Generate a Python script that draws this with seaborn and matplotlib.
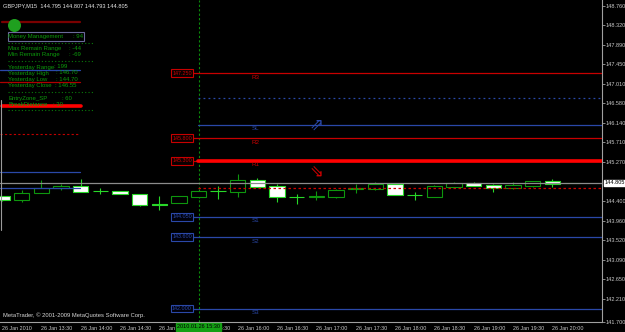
import numpy as np
import pandas as pd
import seaborn as sns
import matplotlib
matplotlib.use("Agg")
import matplotlib.pyplot as plt
from matplotlib import transforms as mtrans, patches

# ---------------- data ----------------
opens  = [144.51, 144.42, 144.58, 144.69, 144.73, 144.63, 144.62, 144.55, 144.33, 144.36,
          144.50, 144.63, 144.59, 144.86, 144.73, 144.50, 144.50, 144.50, 144.67, 144.66,
          144.78, 144.54, 144.50, 144.71, 144.80, 144.75, 144.69, 144.74, 144.84, 144.795]
highs  = [144.52, 144.64, 144.86, 144.79, 144.90, 144.70, 144.63, 144.56, 144.52, 144.52,
          144.66, 144.73, 145.01, 144.92, 144.79, 144.56, 144.62, 144.67, 144.77, 144.82,
          144.79, 144.59, 144.75, 144.82, 144.82, 144.79, 144.82, 144.84, 144.88, 144.807]
lows   = [144.41, 144.37, 144.58, 144.64, 144.61, 144.55, 144.55, 144.29, 144.19, 144.35,
          144.46, 144.45, 144.48, 144.71, 144.38, 144.34, 144.42, 144.46, 144.58, 144.64,
          144.53, 144.43, 144.50, 144.71, 144.74, 144.60, 144.67, 144.71, 144.71, 144.793]
closes = [144.42, 144.58, 144.70, 144.74, 144.61, 144.62, 144.55, 144.31, 144.32, 144.51,
          144.62, 144.62, 144.87, 144.71, 144.48, 144.49, 144.51, 144.65, 144.68, 144.79,
          144.53, 144.53, 144.73, 144.80, 144.74, 144.68, 144.76, 144.84, 144.79, 144.805]

x_tick_labels = ["26 Jan 2010", "26 Jan 13:30", "26 Jan 14:00", "26 Jan 14:30", "26 Jan 15:00",
                 "26 Jan 15:30", "26 Jan 16:00", "26 Jan 16:30", "26 Jan 17:00", "26 Jan 17:30",
                 "26 Jan 18:00", "26 Jan 18:30", "26 Jan 19:00", "26 Jan 19:30", "26 Jan 20:00"]
y_tick_values = [148.760, 148.320, 147.890, 147.450, 147.010, 146.580, 146.140, 145.710,
                 145.270, 144.400, 143.960, 143.520, 143.090, 142.650, 142.210, 141.700]

level_names  = ["R3", "SL", "R2", "R1", "S1", "S2", "S3"]
level_prices = [147.25, 146.10, 145.80, 145.30, 144.05, 143.60, 142.00]
level_kinds  = ["res", "sup", "res", "res", "sup", "sup", "sup"]
level_tags   = ["147.250", "", "145.800", "145.300", "144.050", "143.600", "142.000"]

yesterday_high = 146.70
yesterday_low = 144.70
last_price = 144.805
marker_time = "2010.01.26 15:30"
marker_bar = 10
arrow_bars = [16, 16]
arrow_prices = [146.10, 145.03]
arrow_kinds = ["buy", "sell"]

panel_labels = ["Money Management", "Max Remain Range", "Min Remain Range", "Yesterday Range",
                "Yesterday High", "Yesterday Low", "Yesterday Close", "EntryZone_SP", "BreakDistance"]
panel_values = ["94", "-44", "-69", "199", "146.70", "144.70", "146.55", "60", "30"]
panel_level_prices = [148.40, 147.33, 147.06, 146.51, 145.90, 145.05, 144.70]
panel_level_styles = ["darkred", "blue", "red", "thick", "dashed", "blue", "blue"]

title_text = "GBPJPY,M15  144.795 144.807 144.793 144.805"
copyright_text = "MetaTrader, \u00a9 2001-2009 MetaQuotes Software Corp."

# ---------------- style ----------------
sns.set_theme(style="dark", rc={"axes.facecolor": "black", "figure.facecolor": "black",
                                "savefig.facecolor": "black"})
plt.rcParams["font.family"] = ["Liberation Sans", "DejaVu Sans"]

RED = "#c80000"
BLUE = "#2a48a8"
TXT = "#c8c8c8"
PGREEN = "#0c9a0c"
BULL_EDGE = "#0e960e"
BEAR_EDGE = "#28d828"

fig = plt.figure(figsize=(6.25, 3.32), dpi=100)
W_AX, H_AX = 602, 322
ax = fig.add_axes([0, 10 / 332, W_AX / 625, H_AX / 332])
ax.set_facecolor("black")

def fx(px):
    return px / W_AX

def fy(py):
    return 1 - py / H_AX

blend = mtrans.blended_transform_factory(ax.transAxes, ax.transData)
blend_x = mtrans.blended_transform_factory(ax.transData, ax.transAxes)

ax.set_xlim(-0.10, 30.53)
ax.set_ylim(141.70, 148.885)

# ---------------- candles ----------------
df = pd.DataFrame({"o": opens, "h": highs, "l": lows, "c": closes})
df["x"] = np.arange(len(df))
bull = df["c"] >= df["o"]
edge = np.where(bull, BULL_EDGE, BEAR_EDGE)
face = np.where(bull, "black", "white")
ax.vlines(df["x"], df["l"], df["h"], colors=edge, lw=0.8, zorder=3)
ax.bar(df["x"], df["c"] - df["o"], bottom=df["o"], width=0.78, color=face,
       edgecolor=edge, linewidth=0.8, zorder=4)

# ---------------- levels ----------------
for name, p, kind, tag in zip(level_names, level_prices, level_kinds, level_tags):
    col = RED if kind == "res" else BLUE
    start = 193 if tag else 198
    ax.axhline(p, xmin=fx(start), xmax=1, color=col, lw=0.9, zorder=5)
    if name == "R1":
        ax.axhline(p, xmin=fx(198), xmax=1, color="#ff0000", lw=2.6, zorder=5)
    if tag:
        ax.text(fx(182), p, tag, transform=blend, ha="center", va="center",
                fontsize=3.9, color=col, zorder=7,
                bbox=dict(boxstyle="square,pad=0.25", facecolor="#0a0000" if kind == "res" else "#00000a",
                          edgecolor=col, linewidth=0.8))
    ax.annotate(name, xy=(fx(256), p), xycoords=blend, xytext=(0, -1.2),
                textcoords="offset points", ha="center", va="top",
                fontsize=4.5, color=col, zorder=7)

ax.axhline(yesterday_high, xmin=fx(198), xmax=1, color=BLUE, lw=0.9,
           ls=(0, (1.5, 2.5)), zorder=5)
ax.axhline(yesterday_low, xmin=fx(198), xmax=1, color="#d00000", lw=0.9,
           ls=(0, (2, 2)), zorder=6)
ax.axhline(last_price, xmin=0, xmax=1, color="#8c8c8c", lw=0.9, zorder=5)

for b, p, kind in zip(arrow_bars, arrow_prices, arrow_kinds):
    ax.text(b, p, "\u21d7" if kind == "buy" else "\u21d8", ha="center", va="center",
            fontsize=12, color=BLUE if kind == "buy" else "#d00000",
            family="DejaVu Sans", zorder=8)

# vertical time marker
ax.axvline(marker_bar, color="#0a8a0a", lw=0.8, ls=(0, (2, 2)), zorder=2)

# ---------------- left panel ----------------
for p, st in zip(panel_level_prices, panel_level_styles):
    if st == "darkred":
        ax.axhline(p, xmin=fx(2), xmax=fx(80), color="#7a0000", lw=1.6, zorder=5)
    elif st == "blue":
        ax.axhline(p, xmin=0, xmax=fx(80), color=BLUE, lw=0.9, zorder=5)
    elif st == "red":
        ax.axhline(p, xmin=0, xmax=fx(80), color="#b00000", lw=0.9, zorder=5)
    elif st == "thick":
        ax.axhline(p, xmin=fx(2), xmax=fx(81), color="#ff0000", lw=2.6, zorder=5)
    elif st == "dashed":
        ax.axhline(p, xmin=0, xmax=fx(80), color="#c00000", lw=0.8, ls=(0, (2, 2)), zorder=5)

ax.scatter([fx(14)], [fy(25)], s=88, color="#1fa01f", transform=ax.transAxes,
           zorder=8, linewidths=0)
ax.add_patch(patches.Rectangle((fx(8), fy(41)), fx(84) - fx(8), 9 / H_AX,
                               transform=ax.transAxes, fill=False,
                               edgecolor="#6a6a9a", lw=0.8, zorder=7))
for ysep in [42.7, 61, 91.5, 110]:
    ax.plot([fx(8), fx(93)], [fy(ysep)] * 2, transform=ax.transAxes,
            color="#0a7a0a", lw=0.8, ls=(0, (1, 2)), zorder=6)

panel_y = [36.7, 48.7, 54.7, 67, 73, 79.3, 86, 98.3, 104.3]
panel_cx = [72.7, 69, 69, 54, 56, 55.7, 54.7, 61.7, 52.7]
for lab, val, yy, cx in zip(panel_labels, panel_values, panel_y, panel_cx):
    ax.text(fx(8.5), fy(yy), lab, transform=ax.transAxes, ha="left", va="center",
            fontsize=4.3, color=PGREEN, zorder=8)
    ax.text(fx(cx), fy(yy), ": " + val, transform=ax.transAxes, ha="left", va="center",
            fontsize=4.3, color=PGREEN, zorder=8)

ax.plot([fx(1)] * 2, [fy(100), fy(230)], transform=ax.transAxes, color="#9a9a9a",
        lw=0.8, zorder=6)

ax.text(fx(3), fy(6), title_text, transform=ax.transAxes, ha="left", va="center",
        fontsize=4.1, color="#e8e8e8", zorder=8)
ax.text(fx(3), fy(315.5), copyright_text, transform=ax.transAxes, ha="left", va="center",
        fontsize=4.25, color="#d8d8d8", zorder=8)

# ---------------- axes ----------------
ax.yaxis.tick_right()
ax.set_yticks(y_tick_values)
ax.set_yticklabels([f"{v:.3f}" for v in y_tick_values])
ax.set_xticks(np.arange(0, len(df), 2))
ax.set_xticklabels(x_tick_labels)
for t in ax.get_xticklabels():
    t.set_horizontalalignment("left")
ax.tick_params(axis="y", colors="#a0a0a0", labelcolor=TXT, labelsize=4.0,
               length=2, width=0.6, pad=0.8, direction="out")
ax.tick_params(axis="x", colors="#a0a0a0", labelcolor=TXT, labelsize=3.9,
               length=2, width=0.6, pad=0.8, direction="out")
ax.grid(False)
for s in ["top", "left"]:
    ax.spines[s].set_visible(False)
for s in ["right", "bottom"]:
    ax.spines[s].set_color("#a0a0a0")
    ax.spines[s].set_linewidth(0.8)

ax.annotate(f"{last_price:.3f}", xy=(1, last_price), xycoords=blend, xytext=(1.8, 0),
            textcoords="offset points", ha="left", va="center", fontsize=4.0,
            color="black", annotation_clip=False, zorder=10,
            bbox=dict(boxstyle="square,pad=0.15", facecolor="white", edgecolor="white"))
ax.annotate(marker_time, xy=(marker_bar, 0), xycoords=blend_x, xytext=(0, -3.6),
            textcoords="offset points", ha="center", va="center", fontsize=4.0,
            color="black", annotation_clip=False, zorder=10,
            bbox=dict(boxstyle="square,pad=0.2", facecolor="#14a014", edgecolor="#14a014"))

fig.savefig("out.png", dpi=100, facecolor="black")
